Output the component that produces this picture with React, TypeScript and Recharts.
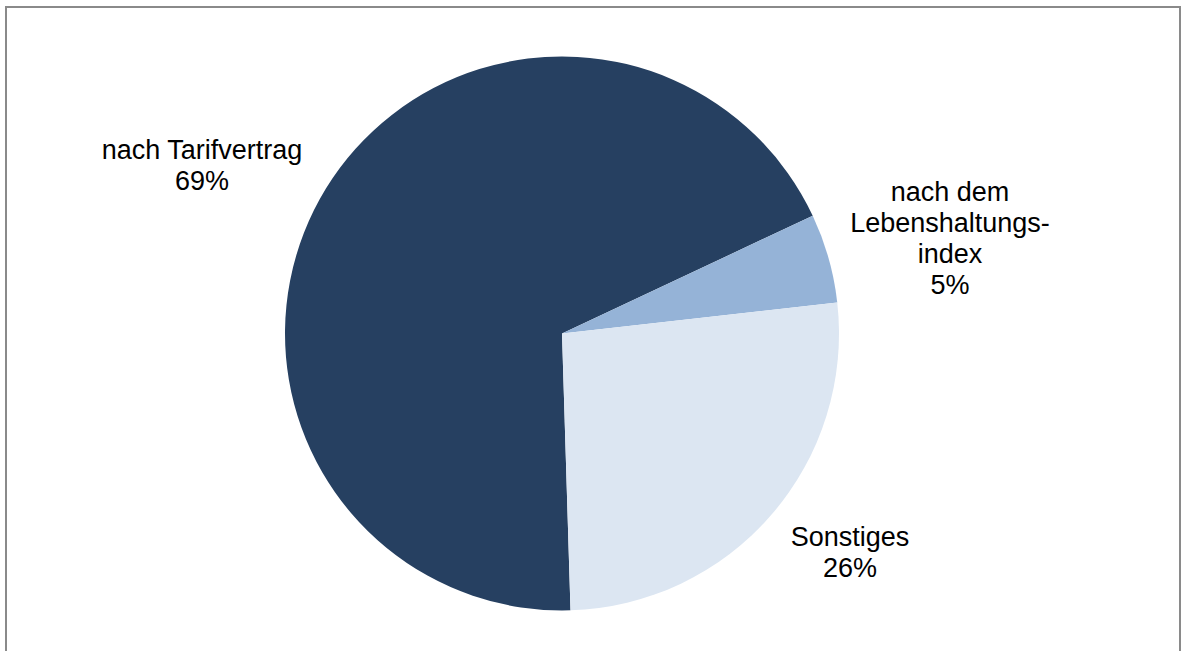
import React from "react";
import { PieChart, Pie, Cell } from "recharts";

const categories = ["nach Tarifvertrag", "nach dem Lebenshaltungsindex", "Sonstiges"];
const labelLines = [
  ["nach Tarifvertrag"],
  ["nach dem", "Lebenshaltungs-", "index"],
  ["Sonstiges"],
];
const values = [68.5, 5.2, 26.3];
const colors = ["#264061", "#95B3D7", "#DCE6F2"];

const data = categories.map((name, i) => ({ name, value: values[i] }));
const total = values.reduce((a, b) => a + b, 0);

// label block centers relative to pie center (layout only)
const labelOffsets = [
  { dx: -360, dy: -168 },
  { dx: 388, dy: -95 },
  { dx: 288, dy: 219 },
];

const W = 1182;
const H = 651;
const CX = 562;
const CY = 333.5;
const LINE = 31;
const FONT = 27;

const renderLabel = (props: any) => {
  const { cx, cy, index, value } = props;
  const off = labelOffsets[index];
  const lines = [...labelLines[index], `${Math.round((value / total) * 100)}%`];
  const x = cx + off.dx;
  const y0 = cy + off.dy - ((lines.length - 1) * LINE) / 2;
  return (
    <text
      key={`lbl-${index}`}
      x={x}
      y={y0}
      textAnchor="middle"
      dominantBaseline="central"
      fill="#000"
      fontSize={FONT}
      fontFamily="'Liberation Sans', Arial, sans-serif"
    >
      {lines.map((l, i) => (
        <tspan key={i} x={x} y={y0 + i * LINE} dominantBaseline="central">
          {l}
        </tspan>
      ))}
    </text>
  );
};

export default function App() {
  return (
    <div
      style={{
        position: "absolute",
        left: 0,
        top: 0,
        width: W,
        height: H,
        overflow: "hidden",
        background: "#fff",
      }}
    >
      <div
        style={{
          position: "absolute",
          left: 5,
          top: 6,
          width: W - 5 - 1 - 4,
          height: H + 10,
          border: "2px solid #8a8a8a",
          boxSizing: "content-box",
        }}
      />
      <div style={{ position: "absolute", left: 0, top: 0 }}>
        <PieChart width={W} height={H} margin={{ top: 0, right: 0, bottom: 0, left: 0 }}>
          <Pie
            data={data}
            dataKey="value"
            nameKey="name"
            cx={CX}
            cy={CY}
            outerRadius={277}
            startAngle={271.76}
            endAngle={271.76 - 360}
            stroke="none"
            isAnimationActive={false}
            labelLine={false}
            label={renderLabel}
          >
            {data.map((d, i) => (
              <Cell key={d.name} fill={colors[i]} />
            ))}
          </Pie>
        </PieChart>
      </div>
    </div>
  );
}
